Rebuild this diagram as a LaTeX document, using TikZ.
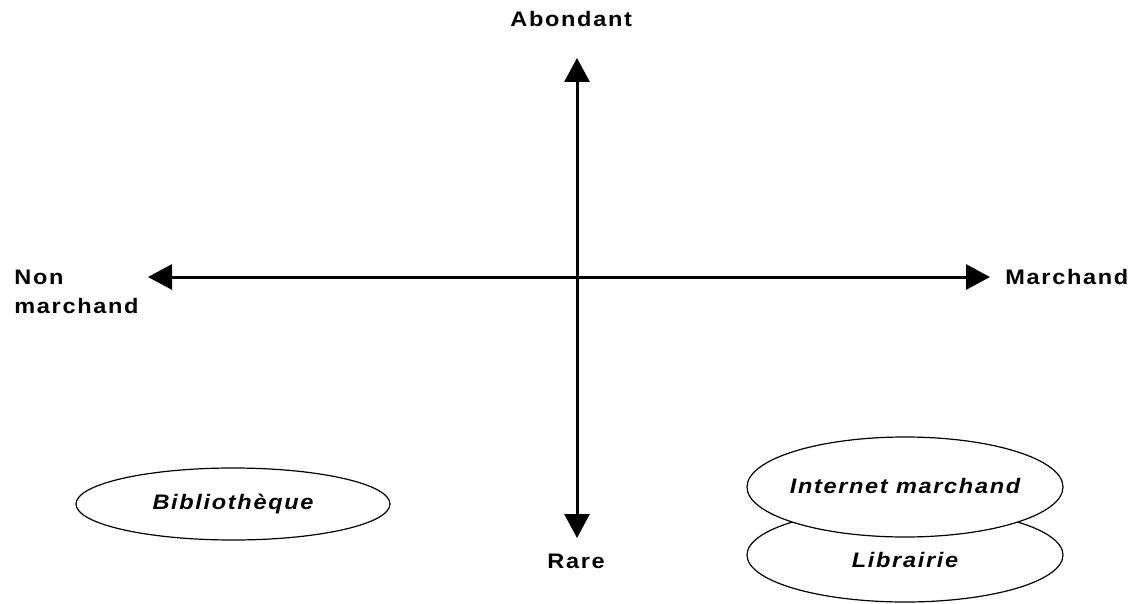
\documentclass[tikz,border=0pt]{standalone}
\usepackage{fontspec}
\setmainfont{Liberation Sans}
\newfontfamily\lblfont{Liberation Sans}[LetterSpace=8,FakeStretch=1.12]
\usetikzlibrary{arrows.meta}
\begin{document}
\begin{tikzpicture}[x=0.5pt,y=-0.5pt,
  axis/.style={line width=1.5pt,{Triangle[length=12pt,width=12.5pt]}-{Triangle[length=12pt,width=12.5pt]}},
  lbl/.style={inner sep=0pt,font=\lblfont\bfseries\fontsize{10.5}{14}\selectfont},
  ovaltext/.style={inner sep=0pt,font=\lblfont\bfseries\itshape\fontsize{10.5}{14}\selectfont},
  oval/.style={draw,line width=0.6pt,fill=white}]
\useasboundingbox (0,0) rectangle (1134,604);
\coordinate (top) at (577,58);
\coordinate (bot) at (577,538);
\coordinate (lft) at (148,277);
\coordinate (rgt) at (990,277);
\draw[axis] (bot) -- (top);
\draw[axis] (lft) -- (rgt);
\node[lbl,anchor=base west] (ab) at (510,27) {Abondant};
\node[lbl,anchor=base west] (ra) at (547,568) {Rare};
\node[lbl,anchor=base west] (ma) at (1005,285) {Marchand};
\node[lbl,anchor=base west,align=left] (nm) at (14,313) {Non\\marchand};
\coordinate (bibc) at (233,504);
\coordinate (libc) at (905,555);
\coordinate (imc) at (905,487);
\path[oval] (bibc) ellipse [x radius=78.5pt, y radius=18pt];
\node[ovaltext] (bib) at (bibc) {Bibliothèque};
\path[oval] (libc) ellipse [x radius=79pt, y radius=23.5pt];
\node[ovaltext] (lib) at ([yshift=-2.5pt]libc) {Librairie};
\path[oval] (imc) ellipse [x radius=79pt, y radius=25pt];
\node[ovaltext] (im) at ([yshift=0.5pt]imc) {Internet marchand};
\end{tikzpicture}
\end{document}
